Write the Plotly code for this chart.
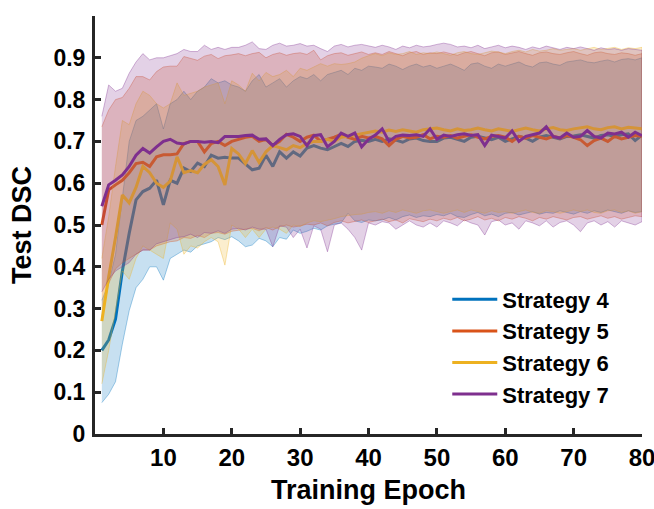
import plotly.graph_objects as go

epochs = list(range(1, 81))
names = ["Strategy 4", "Strategy 5", "Strategy 6", "Strategy 7"]

s4_mean = [0.200, 0.225, 0.275, 0.390, 0.480, 0.560, 0.580, 0.588, 0.607, 0.548,
           0.607, 0.600, 0.636, 0.628, 0.648, 0.640, 0.667, 0.660, 0.662, 0.660,
           0.660, 0.645, 0.632, 0.636, 0.667, 0.640, 0.675, 0.660, 0.675, 0.665,
           0.684, 0.690, 0.684, 0.680, 0.688, 0.695, 0.688, 0.700, 0.703, 0.700,
           0.705, 0.700, 0.706, 0.703, 0.698, 0.706, 0.708, 0.702, 0.700, 0.700,
           0.708, 0.710, 0.705, 0.700, 0.710, 0.712, 0.708, 0.704, 0.710, 0.700,
           0.706, 0.712, 0.708, 0.700, 0.710, 0.714, 0.710, 0.706, 0.712, 0.713,
           0.716, 0.712, 0.708, 0.714, 0.716, 0.712, 0.716, 0.718, 0.702, 0.715]
s4_upper = [0.320, 0.360, 0.430, 0.560, 0.700, 0.750, 0.760, 0.775, 0.790, 0.730,
            0.790, 0.800, 0.820, 0.800, 0.820, 0.830, 0.850, 0.840, 0.845, 0.835,
            0.830, 0.820, 0.845, 0.860, 0.830, 0.840, 0.850, 0.830, 0.845, 0.855,
            0.850, 0.860, 0.845, 0.860, 0.865, 0.870, 0.860, 0.875, 0.870, 0.880,
            0.878, 0.875, 0.885, 0.880, 0.872, 0.880, 0.885, 0.878, 0.882, 0.875,
            0.880, 0.885, 0.878, 0.870, 0.885, 0.888, 0.880, 0.875, 0.885, 0.880,
            0.885, 0.890, 0.882, 0.878, 0.888, 0.890, 0.885, 0.882, 0.890, 0.892,
            0.895, 0.890, 0.888, 0.892, 0.895, 0.890, 0.896, 0.898, 0.895, 0.900]
s4_lower = [0.075, 0.095, 0.125, 0.215, 0.295, 0.350, 0.370, 0.400, 0.400, 0.368,
            0.420, 0.430, 0.440, 0.435, 0.450, 0.455, 0.460, 0.470, 0.465, 0.472,
            0.462, 0.448, 0.452, 0.468, 0.462, 0.448, 0.470, 0.466, 0.488, 0.480,
            0.485, 0.492, 0.488, 0.498, 0.502, 0.505, 0.528, 0.510, 0.506, 0.512,
            0.510, 0.512, 0.518, 0.512, 0.520, 0.524, 0.518, 0.522, 0.520, 0.525,
            0.522, 0.528, 0.520, 0.518, 0.525, 0.530, 0.522, 0.526, 0.520, 0.528,
            0.530, 0.524, 0.528, 0.532, 0.526, 0.530, 0.528, 0.534, 0.530, 0.526,
            0.532, 0.528, 0.534, 0.530, 0.536, 0.532, 0.528, 0.534, 0.530, 0.532]

s5_mean = [0.500, 0.584, 0.596, 0.607, 0.625, 0.647, 0.650, 0.640, 0.663, 0.668,
           0.668, 0.670, 0.695, 0.700, 0.700, 0.675, 0.695, 0.700, 0.690, 0.700,
           0.705, 0.710, 0.712, 0.700, 0.705, 0.690, 0.700, 0.717, 0.710, 0.700,
           0.710, 0.715, 0.700, 0.705, 0.710, 0.717, 0.710, 0.705, 0.712, 0.708,
           0.712, 0.706, 0.690, 0.705, 0.712, 0.708, 0.710, 0.716, 0.706, 0.712,
           0.710, 0.714, 0.708, 0.712, 0.716, 0.710, 0.706, 0.712, 0.714, 0.710,
           0.700, 0.712, 0.708, 0.714, 0.710, 0.706, 0.712, 0.708, 0.714, 0.710,
           0.704, 0.690, 0.702, 0.708, 0.700, 0.712, 0.706, 0.710, 0.714, 0.712]
s5_upper = [0.735, 0.775, 0.800, 0.805, 0.827, 0.855, 0.855, 0.847, 0.867, 0.878,
            0.880, 0.880, 0.903, 0.898, 0.894, 0.904, 0.908, 0.898, 0.905, 0.907,
            0.910, 0.905, 0.910, 0.913, 0.900, 0.908, 0.912, 0.906, 0.910, 0.912,
            0.908, 0.918, 0.895, 0.905, 0.910, 0.912, 0.906, 0.910, 0.914, 0.908,
            0.912, 0.908, 0.915, 0.910, 0.905, 0.912, 0.915, 0.908, 0.912, 0.910,
            0.914, 0.910, 0.906, 0.912, 0.915, 0.910, 0.905, 0.912, 0.914, 0.908,
            0.912, 0.915, 0.910, 0.906, 0.912, 0.914, 0.910, 0.908, 0.912, 0.915,
            0.910, 0.906, 0.912, 0.914, 0.910, 0.908, 0.912, 0.910, 0.906, 0.910]
s5_lower = [0.280, 0.360, 0.395, 0.410, 0.420, 0.430, 0.440, 0.440, 0.450, 0.455,
            0.460, 0.462, 0.470, 0.468, 0.475, 0.470, 0.480, 0.482, 0.478, 0.485,
            0.488, 0.490, 0.492, 0.486, 0.494, 0.488, 0.496, 0.500, 0.495, 0.498,
            0.502, 0.500, 0.505, 0.498, 0.506, 0.510, 0.505, 0.508, 0.512, 0.506,
            0.510, 0.514, 0.508, 0.512, 0.505, 0.515, 0.512, 0.508, 0.514, 0.510,
            0.516, 0.512, 0.518, 0.510, 0.514, 0.520, 0.512, 0.516, 0.510, 0.518,
            0.514, 0.520, 0.516, 0.510, 0.518, 0.514, 0.520, 0.516, 0.512, 0.518,
            0.520, 0.514, 0.518, 0.522, 0.516, 0.520, 0.514, 0.518, 0.522, 0.520]

s6_mean = [0.270, 0.376, 0.470, 0.572, 0.553, 0.590, 0.640, 0.625, 0.600, 0.590,
           0.605, 0.663, 0.625, 0.630, 0.625, 0.645, 0.656, 0.640, 0.596, 0.683,
           0.670, 0.647, 0.678, 0.650, 0.675, 0.690, 0.685, 0.680, 0.690, 0.685,
           0.695, 0.700, 0.700, 0.705, 0.700, 0.710, 0.712, 0.715, 0.718, 0.722,
           0.725, 0.722, 0.727, 0.724, 0.728, 0.725, 0.722, 0.728, 0.730, 0.732,
           0.728, 0.725, 0.730, 0.726, 0.728, 0.732, 0.728, 0.725, 0.730, 0.727,
           0.724, 0.728, 0.732, 0.728, 0.725, 0.730, 0.733, 0.728, 0.726, 0.730,
           0.732, 0.735, 0.730, 0.728, 0.733, 0.735, 0.730, 0.734, 0.732, 0.730]
s6_upper = [0.420, 0.520, 0.640, 0.750, 0.740, 0.790, 0.820, 0.810, 0.790, 0.780,
            0.790, 0.840, 0.810, 0.815, 0.820, 0.830, 0.835, 0.840, 0.790, 0.845,
            0.835, 0.820, 0.863, 0.845, 0.865, 0.855, 0.860, 0.870, 0.855, 0.875,
            0.870, 0.878, 0.886, 0.880, 0.886, 0.884, 0.886, 0.890, 0.899, 0.905,
            0.910, 0.905, 0.912, 0.908, 0.910, 0.915, 0.908, 0.912, 0.910, 0.914,
            0.910, 0.906, 0.912, 0.915, 0.910, 0.908, 0.912, 0.916, 0.914, 0.910,
            0.915, 0.918, 0.914, 0.920, 0.916, 0.918, 0.922, 0.918, 0.920, 0.922,
            0.918, 0.922, 0.925, 0.920, 0.922, 0.925, 0.920, 0.924, 0.922, 0.925]
s6_lower = [0.120, 0.200, 0.290, 0.390, 0.370, 0.420, 0.450, 0.440, 0.430, 0.420,
            0.505, 0.490, 0.430, 0.450, 0.445, 0.460, 0.470, 0.460, 0.404, 0.500,
            0.490, 0.470, 0.490, 0.470, 0.490, 0.495, 0.490, 0.480, 0.500, 0.496,
            0.505, 0.510, 0.508, 0.512, 0.515, 0.520, 0.522, 0.525, 0.526, 0.530,
            0.532, 0.528, 0.534, 0.530, 0.536, 0.532, 0.528, 0.534, 0.536, 0.532,
            0.528, 0.532, 0.536, 0.530, 0.536, 0.532, 0.528, 0.534, 0.530, 0.532,
            0.528, 0.532, 0.536, 0.530, 0.528, 0.534, 0.532, 0.528, 0.532, 0.536,
            0.532, 0.536, 0.530, 0.528, 0.534, 0.536, 0.530, 0.534, 0.528, 0.532]

s7_mean = [0.545, 0.596, 0.607, 0.620, 0.640, 0.667, 0.683, 0.672, 0.687, 0.700,
           0.705, 0.696, 0.694, 0.700, 0.700, 0.698, 0.700, 0.697, 0.712, 0.712,
           0.712, 0.714, 0.715, 0.705, 0.706, 0.690, 0.705, 0.716, 0.718, 0.712,
           0.690, 0.714, 0.716, 0.687, 0.700, 0.720, 0.712, 0.720, 0.687, 0.705,
           0.715, 0.730, 0.700, 0.712, 0.715, 0.714, 0.716, 0.712, 0.730, 0.705,
           0.715, 0.712, 0.716, 0.718, 0.714, 0.716, 0.690, 0.715, 0.712, 0.708,
           0.725, 0.700, 0.712, 0.716, 0.720, 0.735, 0.712, 0.708, 0.720, 0.710,
           0.712, 0.726, 0.712, 0.708, 0.720, 0.718, 0.722, 0.710, 0.722, 0.714]
s7_upper = [0.760, 0.835, 0.820, 0.827, 0.863, 0.890, 0.910, 0.895, 0.900, 0.900,
            0.905, 0.910, 0.920, 0.915, 0.915, 0.930, 0.920, 0.925, 0.920, 0.925,
            0.925, 0.930, 0.938, 0.922, 0.920, 0.930, 0.935, 0.928, 0.930, 0.934,
            0.928, 0.930, 0.922, 0.915, 0.928, 0.932, 0.926, 0.930, 0.932, 0.928,
            0.925, 0.930, 0.926, 0.920, 0.928, 0.924, 0.930, 0.926, 0.928, 0.932,
            0.935, 0.932, 0.926, 0.928, 0.924, 0.930, 0.922, 0.926, 0.930, 0.924,
            0.928, 0.925, 0.920, 0.926, 0.922, 0.928, 0.924, 0.920, 0.925, 0.922,
            0.926, 0.922, 0.918, 0.924, 0.920, 0.922, 0.918, 0.922, 0.920, 0.918]
s7_lower = [0.340, 0.370, 0.390, 0.400, 0.410, 0.430, 0.440, 0.440, 0.455, 0.460,
            0.465, 0.470, 0.472, 0.478, 0.470, 0.482, 0.480, 0.486, 0.480, 0.490,
            0.492, 0.488, 0.495, 0.490, 0.490, 0.448, 0.498, 0.495, 0.470, 0.490,
            0.445, 0.498, 0.490, 0.436, 0.500, 0.505, 0.490, 0.470, 0.440, 0.505,
            0.500, 0.508, 0.505, 0.490, 0.500, 0.510, 0.500, 0.495, 0.505, 0.495,
            0.510, 0.505, 0.498, 0.512, 0.505, 0.500, 0.476, 0.508, 0.512, 0.500,
            0.505, 0.490, 0.510, 0.505, 0.498, 0.510, 0.495, 0.506, 0.510, 0.500,
            0.484, 0.505, 0.510, 0.500, 0.508, 0.495, 0.510, 0.505, 0.500, 0.508]

x_ticks = [10, 20, 30, 40, 50, 60, 70, 80]
y_ticks = [0, 0.1, 0.2, 0.3, 0.4, 0.5, 0.6, 0.7, 0.8, 0.9, 1.0]
y_tick_labels = ["0", "0.1", "0.2", "0.3", "0.4", "0.5", "0.6", "0.7", "0.8", "0.9", ""]

series = [
    (names[0], s4_mean, s4_upper, s4_lower, (0, 114, 189)),
    (names[1], s5_mean, s5_upper, s5_lower, (217, 83, 25)),
    (names[2], s6_mean, s6_upper, s6_lower, (237, 177, 32)),
    (names[3], s7_mean, s7_upper, s7_lower, (126, 47, 142)),
]

FONT = "Arial, Liberation Sans, Helvetica, sans-serif"
fig = go.Figure()
for name, mean, upper, lower, (r, g, b) in series:
    fig.add_trace(go.Scatter(
        x=epochs + epochs[::-1], y=upper + lower[::-1],
        mode="lines", fill="toself",
        fillcolor=f"rgba({r},{g},{b},0.22)",
        line=dict(color=f"rgba({r},{g},{b},0.35)", width=1),
        showlegend=False, hoverinfo="skip"))
    fig.add_trace(go.Scatter(
        x=epochs, y=mean, mode="lines", name=name,
        line=dict(color=f"rgb({r},{g},{b})", width=3)))

fig.update_layout(
    width=654, height=509,
    margin=dict(l=95, r=12, t=16, b=75, autoexpand=False),
    paper_bgcolor="white", plot_bgcolor="white",
    font=dict(family=FONT, color="black", size=22, weight="bold"),
    showlegend=True,
    legend=dict(x=0.644, y=0.372, xanchor="left", yanchor="top",
                bgcolor="rgba(0,0,0,0)", font=dict(size=22, weight="bold"),
                itemwidth=45, tracegroupgap=0),
)
fig.update_xaxes(
    range=[0, 80], tickvals=x_ticks, ticks="inside", ticklen=6, tickwidth=3,
    tickcolor="#262626", showline=True, linewidth=3, linecolor="#262626",
    showgrid=False, zeroline=False, automargin=False, ticklabeloverflow="allow",
    tickfont=dict(size=24, weight="bold"),
    title=dict(text="Training Epoch", font=dict(size=27, weight="bold"), standoff=11),
)
fig.update_yaxes(
    range=[0, 1.0], tickvals=y_ticks, ticktext=y_tick_labels, ticks="inside",
    ticklen=6, tickwidth=3, tickcolor="#262626", showline=True, linewidth=3,
    linecolor="#262626", showgrid=False, zeroline=False, automargin=False,
    ticklabelstandoff=2,
    tickfont=dict(size=23, weight="bold"),
    title=dict(text="Test DSC", font=dict(size=27, weight="bold"), standoff=14),
)

# remove the default 8px page margin so the 654x509 figure fills the window exactly
fig.write_html("out.html", config={"displayModeBar": False},
               post_script="document.body.style.margin='0';")
